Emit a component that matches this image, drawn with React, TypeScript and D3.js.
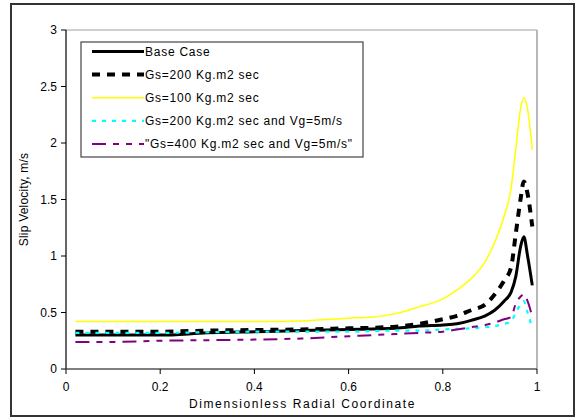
import * as d3 from 'd3';

const W = 577;
const H = 419;

const xTicks = [0, 0.2, 0.4, 0.6, 0.8, 1];
const yTicks = [0, 0.5, 1, 1.5, 2, 2.5, 3];

// x positions
const radial = [0.02, 0.1, 0.2, 0.3, 0.4, 0.5, 0.6, 0.65, 0.7, 0.75, 0.8, 0.83, 0.86, 0.89, 0.91, 0.93, 0.945, 0.955, 0.965, 0.972, 0.98, 0.99];

const baseCase = [0.30, 0.30, 0.30, 0.32, 0.33, 0.34, 0.35, 0.355, 0.36, 0.38, 0.39, 0.40, 0.43, 0.47, 0.52, 0.60, 0.68, 0.82, 1.08, 1.17, 1.0, 0.74];
const gs200 = [0.33, 0.33, 0.33, 0.34, 0.345, 0.35, 0.36, 0.365, 0.375, 0.40, 0.44, 0.47, 0.52, 0.57, 0.66, 0.78, 0.9, 1.2, 1.5, 1.66, 1.55, 1.26];
const gs100 = [0.42, 0.42, 0.42, 0.42, 0.42, 0.425, 0.45, 0.46, 0.49, 0.55, 0.62, 0.70, 0.80, 0.95, 1.12, 1.35, 1.6, 1.95, 2.3, 2.4, 2.3, 1.94];
const gs200vg5 = [0.32, 0.32, 0.32, 0.325, 0.33, 0.33, 0.33, 0.335, 0.34, 0.34, 0.35, 0.355, 0.36, 0.37, 0.38, 0.40, 0.42, 0.5, 0.57, 0.6, 0.5, 0.36];
const gs400vg5 = [0.24, 0.24, 0.25, 0.255, 0.26, 0.27, 0.29, 0.30, 0.31, 0.32, 0.33, 0.35, 0.37, 0.39, 0.41, 0.44, 0.46, 0.58, 0.64, 0.66, 0.6, 0.46];

const seriesNames = [
  'Base Case',
  'Gs=200 Kg.m2 sec',
  'Gs=100 Kg.m2 sec',
  'Gs=200 Kg.m2 sec and Vg=5m/s',
  '"Gs=400 Kg.m2 sec and Vg=5m/s"',
];
const seriesValues = [baseCase, gs200, gs100, gs200vg5, gs400vg5];
const seriesColors = ['#000000', '#000000', '#ffff00', '#00ffff', '#800080'];
const seriesWidths = [3, 4, 1.5, 2.2, 2];
const seriesDash = ['', '8,7', '', '4,6', '14,7,6,7,6,7'];

const margin = { top: 30, right: 40, bottom: 50, left: 66 };

export default function App() {
  const x = d3.scaleLinear().domain([0, 1]).range([margin.left, W - margin.right]);
  const y = d3.scaleLinear().domain([0, 3]).range([H - margin.bottom, margin.top]);
  const font = 'Liberation Sans, Arial, sans-serif';

  const line = d3.line<number>()
    .x((_, i) => x(radial[i]))
    .y(d => y(d))
    .curve(d3.curveMonotoneX);

  const x0 = x(0), x1 = x(1), y0 = y(0), y1 = y(3);

  return (
    <svg width={W} height={H} style={{ position: 'absolute', left: 0, top: 0, background: '#fff' }} fontFamily={font}>
      <rect x={11} y={4} width={563} height={412} fill="#fff" stroke="#333" strokeWidth={2} />
      {/* plot frame */}
      <line x1={x0} y1={y1} x2={x1} y2={y1} stroke="#a0a0a0" strokeWidth={1.2} />
      <line x1={x1} y1={y1} x2={x1} y2={y0} stroke="#b0b0b0" strokeWidth={1.8} />

      {seriesValues.map((vals, i) => (
        <path key={i} d={line(vals) || ''} fill="none" stroke={seriesColors[i]}
          strokeWidth={seriesWidths[i]} strokeDasharray={seriesDash[i]} />
      ))}

      {/* axes */}
      <line x1={x0} y1={y1} x2={x0} y2={y0} stroke="#000" strokeWidth={1.2} />
      <line x1={x0} y1={y0} x2={x1} y2={y0} stroke="#555" strokeWidth={1.5} />
      {yTicks.map(t => (
        <g key={'y' + t}>
          <line x1={x0 - 5} x2={x0} y1={y(t)} y2={y(t)} stroke="#000" />
          <text x={x0 - 9} y={y(t)} dy="0.35em" textAnchor="end" fontSize={12}>{t}</text>
        </g>
      ))}
      {xTicks.map(t => (
        <g key={'x' + t}>
          <line x1={x(t)} x2={x(t)} y1={y0} y2={y0 + 5} stroke="#000" />
          <text x={x(t)} y={y0 + 22} textAnchor="middle" fontSize={12}>{t}</text>
        </g>
      ))}
      <text x={(x0 + x1) / 2 + 1} y={408} textAnchor="middle" fontSize={12} letterSpacing={1.6}>Dimensionless Radial Coordinate</text>
      <text transform={`translate(28, ${(y0 + y1) / 2}) rotate(-90)`} textAnchor="middle" fontSize={12} letterSpacing={0.2}>Slip Velocity, m/s</text>

      {/* legend */}
      <rect x={81} y={42} width={282} height={115} fill="#fff" stroke="#444" strokeWidth={1.2} />
      {seriesNames.map((name, i) => {
        const ly = 51.5 + i * 23.1;
        return (
          <g key={name}>
            <line x1={92} x2={144} y1={ly} y2={ly} stroke={seriesColors[i]}
              strokeWidth={seriesWidths[i]} strokeDasharray={seriesDash[i]} />
            <text x={145} y={ly} dy="0.35em" fontSize={12} letterSpacing={0.75}>{name}</text>
          </g>
        );
      })}
    </svg>
  );
}
